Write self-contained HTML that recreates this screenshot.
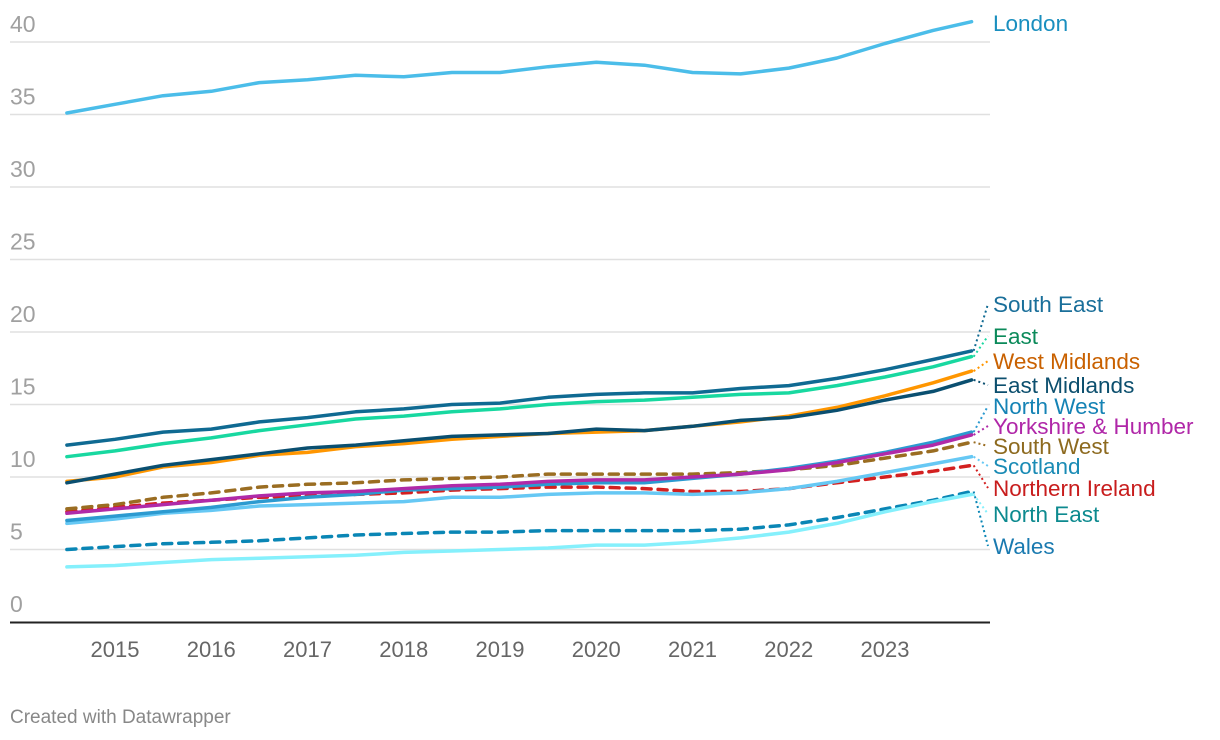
<!DOCTYPE html>
<html><head><meta charset="utf-8"><style>
body{margin:0;background:#fff;font-family:"Liberation Sans",sans-serif;}
svg{display:block}
</style></head><body>
<svg id="chart" width="1220" height="740"></svg>
<script>
const years=[2015,2016,2017,2018,2019,2020,2021,2022,2023];
const yTicks=[0,5,10,15,20,25,30,35,40];
const times=[2014.5,2015,2015.5,2016,2016.5,2017,2017.5,2018,2018.5,2019,2019.5,2020,2020.5,2021,2021.5,2022,2022.5,2023,2023.5,2023.9];
const london=[35.1,35.7,36.3,36.6,37.2,37.4,37.7,37.6,37.9,37.9,38.3,38.6,38.4,37.9,37.8,38.2,38.9,39.9,40.8,41.4];
const southEast=[12.2,12.6,13.1,13.3,13.8,14.1,14.5,14.7,15.0,15.1,15.5,15.7,15.8,15.8,16.1,16.3,16.8,17.4,18.1,18.7];
const east=[11.4,11.8,12.3,12.7,13.2,13.6,14.0,14.2,14.5,14.7,15.0,15.2,15.3,15.5,15.7,15.8,16.3,16.9,17.6,18.3];
const westMidlands=[9.7,10.0,10.7,11.0,11.5,11.7,12.1,12.3,12.6,12.8,13.0,13.1,13.2,13.5,13.8,14.2,14.8,15.6,16.5,17.3];
const eastMidlands=[9.6,10.2,10.8,11.2,11.6,12.0,12.2,12.5,12.8,12.9,13.0,13.3,13.2,13.5,13.9,14.1,14.6,15.3,15.9,16.7];
const northWest=[7.0,7.3,7.6,7.9,8.3,8.6,8.8,9.1,9.2,9.3,9.5,9.6,9.6,9.9,10.2,10.6,11.1,11.7,12.4,13.1];
const yorkshire=[7.5,7.8,8.1,8.4,8.7,8.9,9.0,9.2,9.4,9.5,9.7,9.8,9.8,10.0,10.2,10.5,11.0,11.6,12.2,12.9];
const southWest=[7.8,8.1,8.6,8.9,9.3,9.5,9.6,9.8,9.9,10.0,10.2,10.2,10.2,10.2,10.3,10.5,10.8,11.3,11.8,12.4];
const scotland=[6.8,7.1,7.5,7.7,8.0,8.1,8.2,8.3,8.6,8.6,8.8,8.9,8.9,8.8,8.9,9.2,9.7,10.3,10.9,11.4];
const northernIreland=[7.6,7.9,8.2,8.4,8.6,8.7,8.8,8.9,9.1,9.2,9.3,9.3,9.2,9.0,9.0,9.2,9.6,10.0,10.4,10.8];
const wales=[5.0,5.2,5.4,5.5,5.6,5.8,6.0,6.1,6.2,6.2,6.3,6.3,6.3,6.3,6.4,6.7,7.2,7.8,8.4,9.0];
const northEast=[3.8,3.9,4.1,4.3,4.4,4.5,4.6,4.8,4.9,5.0,5.1,5.3,5.3,5.5,5.8,6.2,6.8,7.6,8.3,8.8];

const NS="http://www.w3.org/2000/svg";
const svg=document.getElementById('chart');
const X=t=>115+(t-2015)*96.25;
const Y=v=>622-v*14.5;
function mk(tag,attrs,parent){const e=document.createElementNS(NS,tag);for(const k in attrs)e.setAttribute(k,attrs[k]);(parent||svg).appendChild(e);return e;}

yTicks.forEach(v=>{
  if(v>0){const g=mk('line',{x1:10,x2:990,y1:Y(v),y2:Y(v),stroke:'#e0e0e0','stroke-width':1.5});
  
  }
  const t=mk('text',{x:10,y:Y(v)-10,'font-size':23,fill:'#a0a0a0'});t.textContent=v;
  
  
});
const ax=mk('line',{x1:10,x2:990,y1:622.5,y2:622.5,stroke:'#222','stroke-width':2});


years.forEach(y=>{
  const t=mk('text',{x:X(y),y:657,'font-size':22,fill:'#666','text-anchor':'middle'});t.textContent=y;
  
  
});

const series=[
 {name:'London',d:london,c:'#4bbde9',lc:'#1a8fbf',ly:23,dash:false},
 {name:'Wales',d:wales,c:'#0a86b5',lc:'#1a7ab0',ly:546,dash:true},
 {name:'North East',d:northEast,c:'#85f0fc',lc:'#0d8a8f',ly:514,dash:false},
 {name:'Northern Ireland',d:northernIreland,c:'#d32020',lc:'#c81d1d',ly:488,dash:true},
 {name:'Scotland',d:scotland,c:'#66c8f4',lc:'#1a8bb5',ly:466,dash:false},
 {name:'South West',d:southWest,c:'#9a6d22',lc:'#8d6a1f',ly:446,dash:true},
 {name:'North West',d:northWest,c:'#2c9ad0',lc:'#1583b5',ly:406,dash:false},
 {name:'Yorkshire & Humber',d:yorkshire,c:'#b02aa8',lc:'#b027a8',ly:426,dash:false},
 {name:'West Midlands',d:westMidlands,c:'#ff9600',lc:'#c96100',ly:361,dash:false},
 {name:'East Midlands',d:eastMidlands,c:'#0a4f70',lc:'#0c4f6e',ly:385,dash:false},
 {name:'East',d:east,c:'#18d8a0',lc:'#0b8a5a',ly:336,dash:false},
 {name:'South East',d:southEast,c:'#0f6a92',lc:'#1a6f9a',ly:304,dash:false}
];
series.forEach(s=>{
  const slug=s.name.toLowerCase().replace(/[^a-z]+/g,'-');
  const pts=s.d.map((v,i)=>X(times[i]).toFixed(1)+','+Y(v).toFixed(1)).join(' ');
  const p=mk('polyline',{points:pts,fill:'none',stroke:s.c,'stroke-width':3.5,'stroke-linejoin':'round','stroke-linecap':'round'});
  if(s.dash)p.setAttribute('stroke-dasharray','9 7');
  
  
  const ex=X(times[times.length-1]),ey=Y(s.d[s.d.length-1]);
  if(s.name!=='London'){
    const c=mk('line',{x1:ex+2,y1:ey,x2:988,y2:s.ly,stroke:s.c,'stroke-width':2,'stroke-dasharray':'2 3'});
    
    
  }
  const t=mk('text',{x:993,y:s.ly+8,'font-size':22.5,fill:s.lc});t.textContent=s.name;
  
  
});
const f=mk('text',{x:10,y:723,'font-size':19,fill:'#888'});f.textContent='Created with Datawrapper';


</script>
</body></html>
